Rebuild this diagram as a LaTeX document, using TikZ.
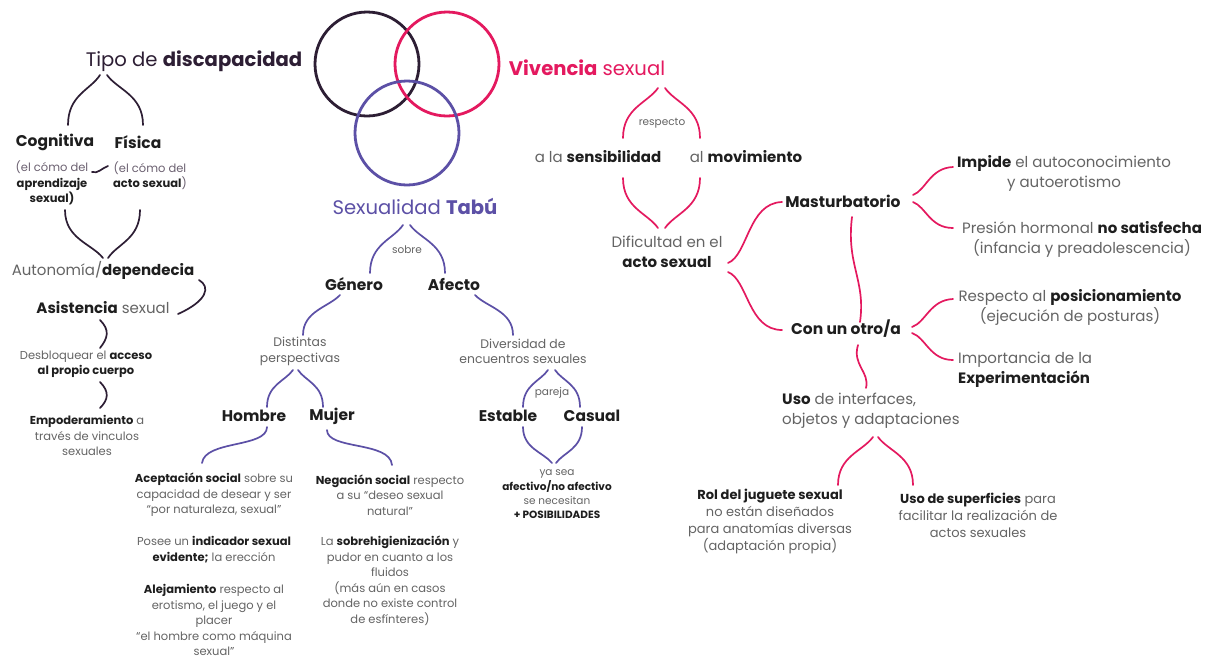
\documentclass[tikz,border=0pt]{standalone}
\usepackage{fontspec}
\setmainfont{Poppins}
\definecolor{dk}{RGB}{45,30,52}
\definecolor{pk}{RGB}{228,25,95}
\definecolor{vi}{RGB}{92,80,166}
\definecolor{gr}{RGB}{100,100,100}
\definecolor{bk}{RGB}{30,30,30}
\newcommand\B[1]{{\bfseries #1}}
\newcommand\K[1]{{\bfseries\color{bk}#1}}
\newcommand\fT{\fontsize{19.6}{24}\selectfont}
\newcommand\fL{\fontsize{15.5}{19}\selectfont}
\newcommand\fM{\fontsize{15}{20}\selectfont}
\newcommand\fN{\fontsize{13}{17}\selectfont}
\newcommand\fD{\fontsize{12.4}{15.5}\selectfont}
\newcommand\fS{\fontsize{11.5}{15.5}\selectfont}
\newcommand\fX{\fontsize{10.5}{14.3}\selectfont}
% half brace: tip (x0,y0) to end (x1,y1), vertical at end
\newcommand\hb[5][]{\draw[#1] (#2,#3) .. controls ({#2+0.3*(#4-#2)},{#3+0.3*(#5-#3)}) and (#4,{#3+0.4*(#5-#3)}) .. (#4,#5);}
% brace: tips xl0,xr0 at ytip; ends xL,xR at yend
\newcommand\brc[7][]{\hb[#1]{#2}{#4}{#5}{#7}\hb[#1]{#3}{#4}{#6}{#7}}
\begin{document}
\begin{tikzpicture}[x=1pt,y=-1pt,
  every node/.style={inner sep=0pt,align=center,text=gr},
  lD/.style={draw=dk,line width=1.7pt,line cap=round},
  lP/.style={draw=pk,line width=1.7pt,line cap=round},
  lV/.style={draw=vi,line width=1.7pt,line cap=round},
  ring/.style={line width=2.8pt}]
\useasboundingbox[fill=white] (0,0) rectangle (1205,662);

% ---------- circles
\draw[ring,draw=dk] (367,64) circle[radius=52pt];
\draw[ring,draw=pk] (447,64) circle[radius=52pt];
\draw[ring,draw=vi] (407,133) circle[radius=52pt];

% ---------- left branch
\node[font=\fT,text=dk] (tipo) at (194,61) {Tipo de \B{discapacidad}};
\brc[lD]{100}{107}{75}{68}{143}{125}
\node[font=\fL] (cog) at (55,142) {\K{Cognitiva}};
\node[font=\fL] (fis) at (138,142) {\K{Física}};
\node[font=\fS,text=dk!70] (cogs) at (52,183) {(el cómo del\\\K{aprendizaje}\\\K{sexual)}};
\node[font=\fS,text=dk!70] (fiss) at (150,175.5) {(el cómo del\\\K{acto sexual})};
\draw[lD] (92,172) .. controls (98,174) and (102,168) .. (108,166);
\brc[lD]{103}{108}{258}{65}{140}{210}
\node[font=\fM] (auto) at (103,270) {Autonomía/\K{dependecia}};
\draw[lD] (199,280) .. controls (211,287) and (207,301) .. (178,314);
\node[font=\fM] (asis) at (103,308) {\K{Asistencia} sexual};
\draw[lD] (100,320) .. controls (110,330) and (108,338) .. (100,348);
\node[font=\fS] (desb) at (86,364.5) {Desbloquear el \K{acceso}\\\K{al propio cuerpo}};
\draw[lD] (100,382) .. controls (110,392) and (108,400) .. (100,408);
\node[font=\fS] (empo) at (87,435.5) {\K{Empoderamiento} a\\través de vinculos\\sexuales};

% ---------- middle branch
\node[font=\fT,text=vi] (tabu) at (415,206) {Sexualidad \B{Tabú}};
\brc[lV]{403}{410}{225}{370}{445}{273}
\node[font=\fX] (sobre) at (407,250) {sobre};
\node[font=\fL] (gen) at (354,284) {\K{Género}};
\node[font=\fL] (afe) at (454,284) {\K{Afecto}};
\hb[lV]{340}{295}{303}{335}
\hb[lV]{475}{295}{513}{335}
\node[font=\fD] (dist) at (300,351.5) {Distintas\\perspectivas};
\node[font=\fD] (div) at (523,351.5) {Diversidad de\\encuentros sexuales};
\brc[lV]{293}{298}{370}{267}{323}{407}
\brc[lV]{548}{555}{370}{523}{580}{407}
\node[font=\fX] (par) at (552,393) {pareja};
\node[font=\fL] (hom) at (254,416) {\K{Hombre}};
\node[font=\fL] (muj) at (332,416) {\K{Mujer}};
\node[font=\fL] (est) at (508,416) {\K{Estable}};
\node[font=\fL] (cas) at (592,416) {\K{Casual}};
\draw[lV] (267,427) .. controls (267,448) and (205,440) .. (202,463);
\draw[lV] (327,430) .. controls (327,450) and (390,441) .. (392,465);
\brc[lV]{552}{556}{463}{523}{582}{427}
\node[font=\fS] (h1) at (214,495) {\K{Aceptación social} sobre su\\capacidad de desear y ser\\“por naturaleza, sexual”};
\node[font=\fS] (h2) at (214,549.5) {Posee un \K{indicador sexual}\\\K{evidente;} la erección};
\node[font=\fS] (h3) at (214,620) {\K{Alejamiento} respecto al\\erotismo, el juego y el\\placer\\“el hombre como máquina\\sexual”};
\node[font=\fS] (m1) at (390,495) {\K{Negación social} respecto\\a su “deseo sexual\\natural”};
\node[font=\fS] (m2) at (390,581) {La \K{sobrehigienización} y\\pudor en cuanto a los\\fluidos\\(más aún en casos\\donde no existe control\\de esfínteres)};
\node[font=\fX] (e1) at (557,494.5) {ya sea\\\K{afectivo/no afectivo}\\se necesitan\\\K{+ POSIBILIDADES}};

% ---------- right branch
\node[font=\fT,text=pk] (viv) at (587,68) {\B{Vivencia} sexual};
\brc[lP]{658}{665}{88}{623}{700}{138}
\node[font=\fX] (resp0) at (662,123) {respecto};
\node[font=\fM] (sens) at (598,157) {a la \K{sensibilidad}};
\node[font=\fM] (mov) at (746,157) {al \K{movimiento}};
\brc[lP]{658}{665}{228}{623}{700}{178}
\node[font=\fM,text=gr] (dif) at (667,251.5) {Dificultad en el\\\K{acto sexual}};
\draw[lP] (728,263) .. controls (748,255) and (748,203) .. (782,202);
\draw[lP] (728,272) .. controls (748,280) and (748,330) .. (782,330);
\node[font=\fL] (mas) at (843,201) {\K{Masturbatorio}};
\node[font=\fL] (con) at (846,329) {\K{Con un otro/a}};
\draw[lP] (852,217) .. controls (846,265) and (866,280) .. (860,322);
\draw[lP] (913,195) .. controls (926,190) and (930,168) .. (953,167);
\draw[lP] (913,202) .. controls (926,207) and (930,228) .. (953,228);
\node[font=\fM] (imp) at (1064,173.5) {\K{Impide} el autoconocimiento\\y autoerotismo};
\node[font=\fM] (pres) at (1082,239.5) {Presión hormonal \K{no satisfecha}\\(infancia y preadolescencia)};
\draw[lP] (912,327) .. controls (926,322) and (930,300) .. (953,299);
\draw[lP] (912,333) .. controls (926,338) and (930,360) .. (953,360);
\node[font=\fM] (resp) at (1070,307) {Respecto al \K{posicionamiento}\\(ejecución de posturas)};
\node[font=\fM,anchor=west,align=left] (impo) at (958,370) {Importancia de la\\\K{Experimentación}};
\draw[lP] (858,345) .. controls (852,365) and (870,372) .. (866,388);
\node[font=\fM,anchor=west,align=left] (uso) at (782,411) {\K{Uso} de interfaces,\\objetos y adaptaciones};
\brc[lP]{873}{878}{437}{838}{913}{485}
\node[font=\fN] (rol) at (770,521.5) {\K{Rol del juguete sexual}\\no están diseñados\\para anatomías diversas\\(adaptación propia)};
\node[font=\fN] (sup) at (978,515) {\K{Uso de superficies} para\\facilitar la realización de\\actos sexuales};
\end{tikzpicture}
\end{document}
